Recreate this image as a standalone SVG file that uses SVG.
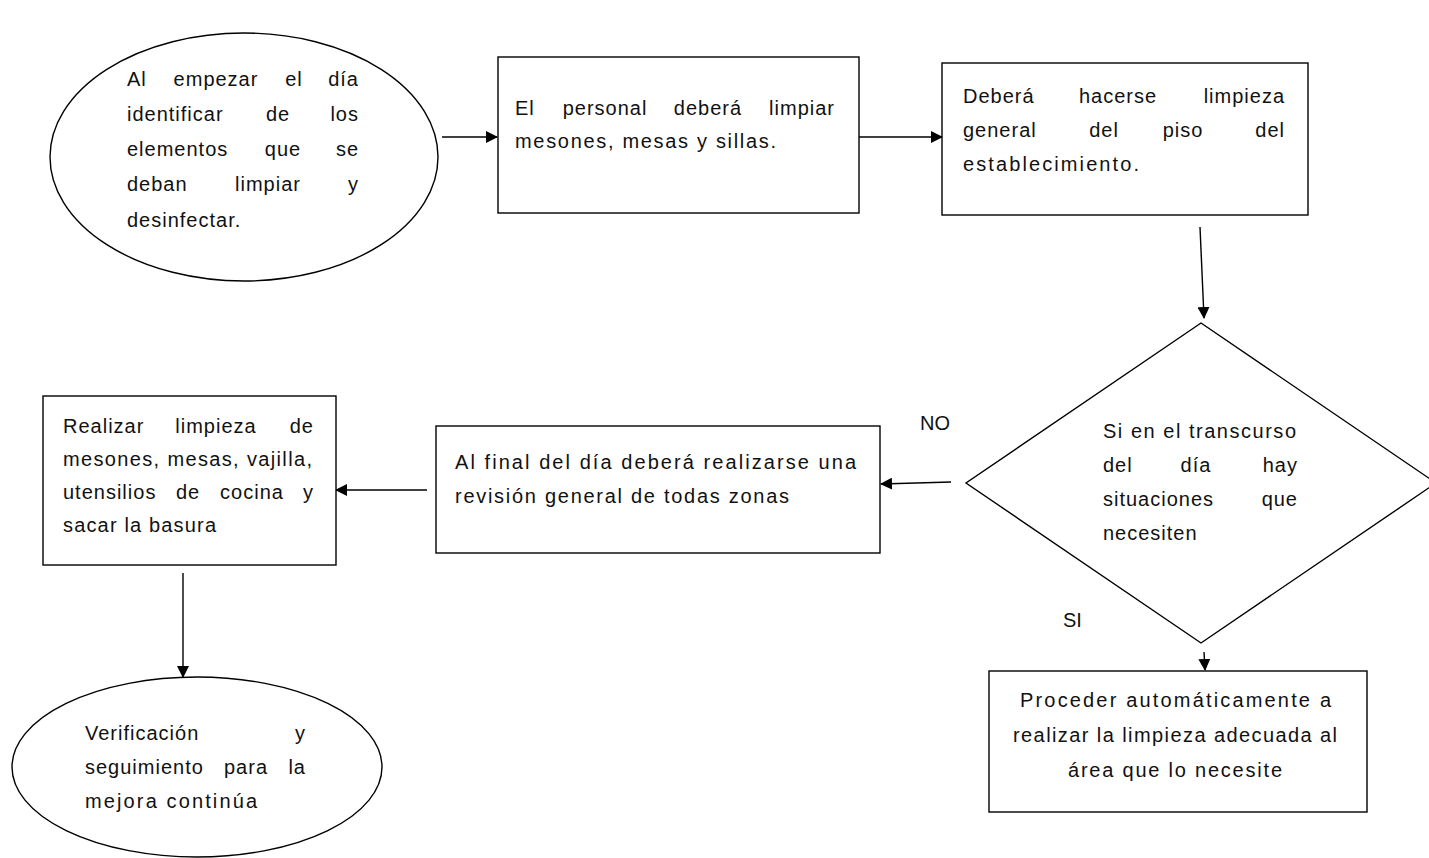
<svg xmlns="http://www.w3.org/2000/svg" width="1429" height="858" viewBox="0 0 1429 858">
<style>
.shape{fill:#fff;stroke:#000;stroke-width:1.4}
.conn{fill:none;stroke:#000;stroke-width:1.4}
text{font-family:"Liberation Sans",Arial,sans-serif;font-size:20px;letter-spacing:1px;fill:#111}
.e{text-anchor:end}
.m{text-anchor:middle}
</style>
<defs>
<marker id="arr" markerUnits="userSpaceOnUse" markerWidth="12" markerHeight="12" refX="11" refY="6" orient="auto">
<path d="M0,0 L12,6 L0,12 z" fill="#000"/>
</marker>
</defs>
<rect width="1429" height="858" fill="#fff"/>

<g id="connectors">
<line class="conn" x1="442" y1="137" x2="497" y2="137" marker-end="url(#arr)"/>
<line class="conn" x1="859" y1="137" x2="942" y2="137" marker-end="url(#arr)"/>
<line class="conn" x1="1200" y1="227" x2="1204" y2="318" marker-end="url(#arr)"/>
<line class="conn" x1="951" y1="482" x2="881" y2="484" marker-end="url(#arr)"/>
<line class="conn" x1="427" y1="490" x2="336" y2="490" marker-end="url(#arr)"/>
<line class="conn" x1="183" y1="573" x2="183" y2="677" marker-end="url(#arr)"/>
<line class="conn" x1="1204" y1="652" x2="1205" y2="670" marker-end="url(#arr)"/>
<text x="920" y="430" style="letter-spacing:0">NO</text>
<text x="1063" y="627" style="letter-spacing:0">SI</text>
</g>

<g id="start">
<ellipse class="shape" cx="244" cy="157" rx="194" ry="124"/>
<text x="127" y="86">Al</text>
<text x="216" y="86" class="m">empezar</text>
<text x="294" y="86" class="m">el</text>
<text x="359" y="86" class="e">día</text>
<text x="127" y="121">identificar</text>
<text x="278" y="121" class="m">de</text>
<text x="359" y="121" class="e">los</text>
<text x="127" y="156">elementos</text>
<text x="283" y="156" class="m">que</text>
<text x="359" y="156" class="e">se</text>
<text x="127" y="191">deban</text>
<text x="268" y="191" class="m">limpiar</text>
<text x="359" y="191" class="e">y</text>
<text x="127" y="227">desinfectar.</text>
</g>

<g id="limpiar-mesones">
<rect class="shape" x="498" y="57" width="361" height="156"/>
<text x="515" y="115">El</text>
<text x="605" y="115" class="m">personal</text>
<text x="708" y="115" class="m">deberá</text>
<text x="835" y="115" class="e">limpiar</text>
<text x="515" y="148" textLength="262">mesones, mesas y sillas.</text>
</g>

<g id="limpiar-piso">
<rect class="shape" x="942" y="63" width="366" height="152"/>
<text x="963" y="103">Deberá</text>
<text x="1118" y="103" class="m">hacerse</text>
<text x="1285" y="103" class="e">limpieza</text>
<text x="963" y="137">general</text>
<text x="1104" y="137" class="m">del</text>
<text x="1183" y="137" class="m">piso</text>
<text x="1285" y="137" class="e">del</text>
<text x="963" y="171" textLength="177">establecimiento.</text>
</g>

<g id="decision">
<polygon class="shape" points="1201,323 1436,483 1201,643 966,483"/>
<text x="1103" y="438" textLength="194">Si en el transcurso</text>
<text x="1103" y="472">del</text>
<text x="1196" y="472" class="m">día</text>
<text x="1298" y="472" class="e">hay</text>
<text x="1103" y="506">situaciones</text>
<text x="1298" y="506" class="e">que</text>
<text x="1103" y="540">necesiten</text>
</g>

<g id="revision-final">
<rect class="shape" x="436" y="426" width="444" height="127"/>
<text x="455" y="469" textLength="402">Al final del día deberá realizarse una</text>
<text x="455" y="503" textLength="335">revisión general de todas zonas</text>
</g>

<g id="limpieza-general">
<rect class="shape" x="43" y="396" width="293" height="169"/>
<text x="63" y="433">Realizar</text>
<text x="216" y="433" class="m">limpieza</text>
<text x="314" y="433" class="e">de</text>
<text x="63" y="466" textLength="250">mesones, mesas, vajilla,</text>
<text x="63" y="499">utensilios</text>
<text x="188" y="499" class="m">de</text>
<text x="252" y="499" class="m">cocina</text>
<text x="314" y="499" class="e">y</text>
<text x="63" y="532" textLength="154">sacar la basura</text>
</g>

<g id="fin">
<ellipse class="shape" cx="197" cy="767" rx="185" ry="90"/>
<text x="85" y="740">Verificación</text>
<text x="306" y="740" class="e">y</text>
<text x="85" y="774">seguimiento</text>
<text x="246" y="774" class="m">para</text>
<text x="306" y="774" class="e">la</text>
<text x="85" y="808" textLength="173">mejora continúa</text>
</g>

<g id="proceder">
<rect class="shape" x="989" y="671" width="378" height="141"/>
<text x="1020" y="707" textLength="312">Proceder automáticamente a</text>
<text x="1013" y="742" textLength="325">realizar la limpieza adecuada al</text>
<text x="1068" y="777" textLength="215">área que lo necesite</text>
</g>
</svg>
